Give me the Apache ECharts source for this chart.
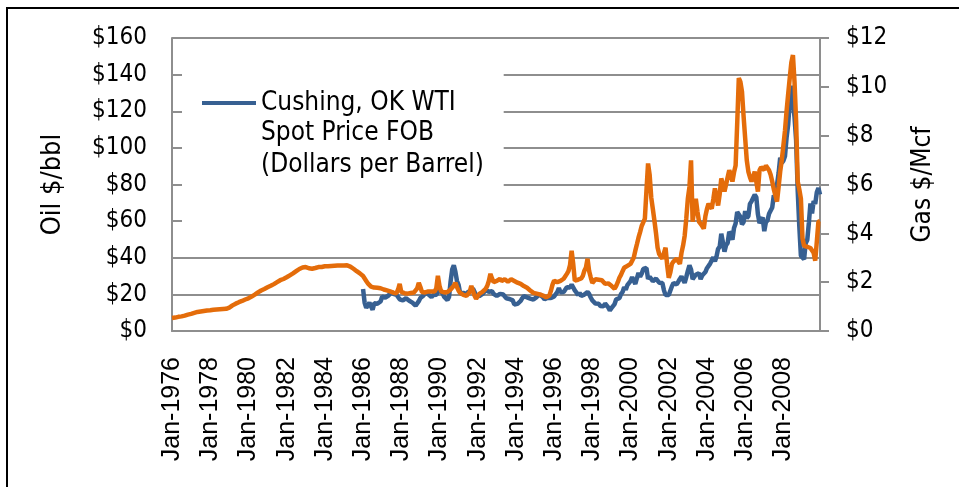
<!DOCTYPE html>
<html>
<head>
<meta charset="utf-8">
<script src="https://cdn.jsdelivr.net/npm/echarts@6/dist/echarts.min.js"></script>
<style>
  body { margin: 0; background: #fff; }
  #chart { width: 959px; height: 487px; }
</style>
</head>
<body>
<div id="chart"></div>
<script>
// monthly categories Jan-1976 .. Dec-2009
const monthNames = ['Jan','Feb','Mar','Apr','May','Jun','Jul','Aug','Sep','Oct','Nov','Dec']
const firstYear = 1976
const lastYear = 2009
const oilTicks = [0, 20, 40, 60, 80, 100, 120, 140, 160]
const gasTicks = [0, 2, 4, 6, 8, 10, 12]

// gas $/Mcf, Jan-1976 .. Dec-2009 (one row per year)
const gasPrice = [
  0.53,0.54,0.55,0.56,0.58,0.59,0.60,0.62,0.63,0.65,0.67,0.69,
  0.70,0.72,0.74,0.76,0.78,0.79,0.80,0.81,0.82,0.83,0.84,0.85,
  0.85,0.86,0.87,0.87,0.88,0.88,0.89,0.89,0.90,0.90,0.91,0.92,
  0.96,1.00,1.05,1.09,1.12,1.15,1.18,1.20,1.23,1.26,1.29,1.31,
  1.34,1.37,1.41,1.45,1.49,1.53,1.58,1.62,1.66,1.69,1.72,1.76,
  1.79,1.82,1.85,1.88,1.92,1.96,2.00,2.04,2.08,2.11,2.13,2.16,
  2.20,2.24,2.28,2.32,2.36,2.40,2.45,2.50,2.54,2.58,2.60,2.62,
  2.62,2.60,2.57,2.55,2.55,2.57,2.58,2.60,2.62,2.63,2.62,2.64,
  2.65,2.66,2.65,2.64,2.66,2.68,2.67,2.66,2.68,2.69,2.68,2.67,
  2.68,2.70,2.69,2.66,2.64,2.60,2.55,2.50,2.45,2.40,2.36,2.32,
  2.25,2.15,2.05,1.95,1.87,1.82,1.80,1.78,1.77,1.77,1.76,1.75,
  1.72,1.70,1.68,1.66,1.64,1.62,1.60,1.57,1.52,1.55,1.70,1.93,
  1.60,1.58,1.55,1.52,1.53,1.55,1.56,1.56,1.58,1.62,1.75,1.97,
  1.80,1.60,1.56,1.58,1.62,1.62,1.64,1.62,1.60,1.62,1.75,2.26,
  1.85,1.62,1.56,1.58,1.62,1.60,1.65,1.70,1.73,1.85,1.97,1.80,
  1.65,1.56,1.52,1.48,1.45,1.44,1.50,1.60,1.85,1.65,1.45,1.32,
  1.38,1.52,1.55,1.60,1.65,1.73,1.85,2.05,2.34,2.15,2.00,1.97,
  2.05,2.10,2.14,2.05,2.10,2.12,2.06,2.02,2.08,2.12,2.06,2.05,
  2.02,1.98,1.95,1.93,1.88,1.84,1.80,1.77,1.72,1.66,1.60,1.56,
  1.55,1.53,1.52,1.50,1.48,1.45,1.42,1.38,1.36,1.45,1.65,1.90,
  2.06,2.02,2.00,1.97,2.05,2.10,2.14,2.20,2.34,2.45,2.70,3.29,
  2.75,2.06,2.05,2.10,2.14,2.15,2.25,2.47,2.60,2.96,2.45,2.20,
  1.97,2.05,2.12,2.18,2.10,2.06,2.08,2.00,1.93,1.90,1.95,1.97,
  1.85,1.78,1.73,1.85,2.00,2.18,2.30,2.45,2.59,2.62,2.67,2.70,
  2.75,2.80,3.00,3.29,3.55,3.82,4.05,4.30,4.45,4.60,5.75,6.86,
  6.40,5.47,5.00,4.52,4.00,3.41,3.15,3.05,2.96,3.20,3.41,2.70,
  2.18,2.40,2.75,2.85,2.90,2.96,2.85,2.75,3.20,3.50,3.90,4.60,
  5.42,5.90,6.99,4.48,5.00,5.42,4.90,4.48,4.40,4.30,4.19,4.70,
  5.00,5.22,5.10,5.01,5.40,5.84,5.50,5.14,5.60,6.25,6.00,5.71,
  6.00,6.30,6.58,6.40,6.12,6.50,6.78,8.50,10.36,10.20,9.80,8.80,
  7.90,7.00,6.53,6.30,6.12,6.30,6.53,6.60,5.71,6.58,6.70,6.74,
  6.60,6.78,6.70,6.58,6.40,6.12,5.80,5.55,5.30,5.90,6.53,7.00,
  7.60,8.20,9.00,9.70,10.36,11.00,11.30,10.20,8.60,6.12,5.80,5.42,
  3.80,3.49,3.47,3.45,3.45,3.40,3.37,3.20,2.88,3.66,4.48,4.50
]

// WTI $/bbl, Jan-1986 .. Dec-2009
const oilStart = 1986
const oilPrice = [
  22.9,15.4,12.6,12.8,15.4,13.5,11.6,15.1,14.9,14.9,15.2,16.1,
  18.7,17.7,18.3,18.6,19.4,20.0,21.4,20.3,19.5,19.8,18.9,17.3,
  17.1,16.7,16.2,17.9,17.4,16.5,15.5,15.5,14.5,13.8,14.0,16.3,
  18.0,17.8,19.4,21.0,20.0,20.0,19.6,18.5,19.6,20.1,19.8,21.1,
  22.9,22.1,20.4,18.6,18.2,16.9,18.6,27.2,33.7,35.9,32.3,27.3,
  25.2,20.5,19.9,20.8,21.2,20.2,21.4,21.7,21.9,23.2,22.5,19.5,
  18.8,19.0,18.9,20.2,20.9,22.4,21.8,21.4,21.9,21.7,20.3,19.4,
  19.1,20.1,20.3,20.3,19.9,19.1,17.9,18.0,17.5,18.2,16.7,14.5,
  15.0,14.8,14.7,16.4,17.9,19.1,19.7,18.4,17.5,17.7,18.1,17.2,
  18.0,18.5,18.6,19.9,19.7,18.4,17.3,18.0,18.2,17.4,18.0,19.0,
  18.9,19.1,21.3,23.5,21.2,20.4,21.3,21.9,23.9,24.9,23.7,25.4,
  25.2,22.2,21.0,19.7,20.8,19.2,19.6,19.9,19.8,21.3,20.2,18.3,
  16.7,16.1,15.0,15.4,14.9,13.7,14.2,13.5,15.0,14.4,12.9,11.3,
  12.5,12.0,14.7,17.3,17.8,17.9,20.1,21.3,23.9,22.6,25.0,26.1,
  27.2,29.4,29.9,25.7,28.8,31.8,29.7,31.3,33.9,33.1,34.4,28.5,
  29.6,29.6,27.2,27.4,28.6,27.6,26.4,27.4,26.2,22.2,19.6,19.4,
  19.7,20.7,24.4,26.2,27.0,25.5,26.9,28.4,29.7,28.9,26.3,29.4,
  32.9,35.9,33.6,28.3,28.1,30.7,30.8,31.6,28.3,30.3,31.1,32.2,
  34.3,34.7,36.8,36.7,40.3,38.0,40.7,44.9,46.0,53.1,48.5,43.3,
  46.8,48.1,54.2,53.0,49.8,56.3,58.7,65.0,65.6,62.4,58.3,59.4,
  65.5,61.6,62.7,69.4,70.8,71.0,74.4,73.1,63.8,58.9,59.1,62.0,
  54.5,59.3,60.4,64.0,63.5,67.5,74.1,72.4,79.9,86.2,94.6,91.7,
  93.0,95.4,105.5,112.6,125.4,133.9,133.4,116.7,104.1,76.6,57.3,41.1,
  41.7,39.1,47.9,49.7,59.0,69.6,64.2,71.0,69.4,75.7,78.0,74.5
]

const oilName = 'Cushing, OK WTI Spot Price FOB (Dollars per Barrel)'
const gasName = 'Natural Gas'

let categories = []
for (let y = firstYear; y <= lastYear; y++) {
  monthNames.forEach(m => categories.push(m + '-' + y))
}
// oil series starts later, pad the earlier months
let oilSeries = new Array((oilStart - firstYear) * 12).fill(null).concat(oilPrice)

const gray = '#8e8e8e'
const labelFont = "'DejaVu Sans Condensed', 'DejaVu Sans', sans-serif"

let myChart = echarts.init(document.getElementById('chart'))
myChart.setOption({
  animation: false,
  backgroundColor: '#fff',
  grid: { left: 172, right: 139, top: 38, bottom: 156 },
  legend: {
    data: [oilName],
    left: 182,
    top: 40,
    padding: [50, 48, 128, 20],
    backgroundColor: '#fff',
    icon: 'rect',
    itemWidth: 54,
    itemHeight: 4,
    formatter: () => 'Cushing, OK WTI',
    textStyle: { fontFamily: labelFont, fontSize: 26, color: '#000' }
  },
  graphic: [
    {
      type: 'rect', z: 100, silent: true,
      shape: { x: 7, y: 8, width: 1000, height: 600 },
      style: { fill: 'none', stroke: '#000', lineWidth: 2 }
    },
    {
      type: 'text', z: 100, left: 261, top: 117,
      style: {
        text: 'Spot Price FOB\n(Dollars per Barrel)',
        font: "26px 'DejaVu Sans Condensed', 'DejaVu Sans', sans-serif",
        lineHeight: 32, fill: '#000'
      }
    }
  ],
  xAxis: {
    type: 'category',
    data: categories,
    boundaryGap: false,
    axisLine: { lineStyle: { color: gray, width: 2 } },
    axisTick: { show: false },
    axisLabel: {
      interval: 23,
      rotate: 90,
      margin: 26,
      color: '#000',
      fontFamily: "'Liberation Sans', Arial, sans-serif",
      fontSize: 25
    }
  },
  yAxis: [
    {
      type: 'value',
      min: oilTicks[0],
      max: oilTicks[oilTicks.length - 1],
      interval: 20,
      name: 'Oil $/bbl',
      nameLocation: 'middle',
      nameRotate: 90,
      nameGap: 106,
      nameTextStyle: { fontFamily: labelFont, fontSize: 27, color: '#000' },
      axisLine: { show: true, lineStyle: { color: gray, width: 2 } },
      axisTick: { show: false },
      splitLine: { lineStyle: { color: gray, width: 2 } },
      axisLabel: {
        margin: 25, color: '#000', fontFamily: labelFont, fontSize: 24,
        formatter: v => '$' + v
      }
    },
    {
      type: 'value',
      min: gasTicks[0],
      max: gasTicks[gasTicks.length - 1],
      interval: 2,
      name: 'Gas $/Mcf',
      nameLocation: 'middle',
      nameRotate: 90,
      nameGap: 90,
      nameTextStyle: { fontFamily: labelFont, fontSize: 26, color: '#000' },
      axisLine: { show: true, lineStyle: { color: gray, width: 2 } },
      axisTick: { show: true, length: 9, lineStyle: { color: gray, width: 2 } },
      splitLine: { show: false },
      axisLabel: {
        margin: 26, color: '#000', fontFamily: labelFont, fontSize: 24,
        formatter: v => '$' + v
      }
    }
  ],
  series: [
    {
      name: oilName,
      type: 'line',
      yAxisIndex: 0,
      data: oilSeries,
      symbol: 'none',
      connectNulls: false,
      lineStyle: { color: '#376092', width: 4.5 },
      itemStyle: { color: '#376092' }
    },
    {
      name: gasName,
      type: 'line',
      yAxisIndex: 1,
      data: gasPrice,
      symbol: 'none',
      lineStyle: { color: '#e46c0a', width: 4.5 },
      itemStyle: { color: '#e46c0a' }
    }
  ]
})
</script>
</body>
</html>
